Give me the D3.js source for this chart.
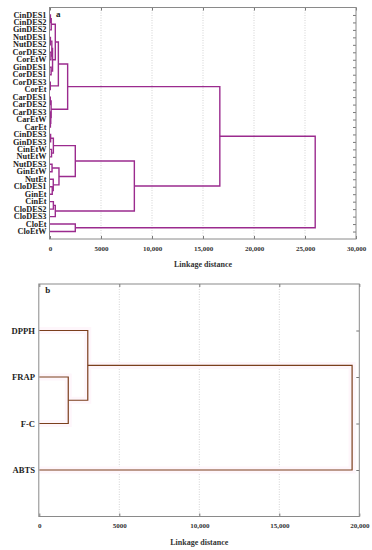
<!DOCTYPE html>
<html>
<head>
<meta charset="utf-8">
<script src="https://cdn.jsdelivr.net/npm/d3@7"></script>
<style>
  body { margin: 0; background: #fff; }
  svg text { font-family: "Liberation Serif", "DejaVu Serif", serif; font-weight: bold; fill: #222; }
</style>
</head>
<body>
<div id="chart"></div>
<script>
// panel a - leaves top to bottom
var leavesA = ["CinDES1", "CinDES2", "GinDES2", "NutDES1", "NutDES2", "CorDES2", "CorEtW",
    "GinDES1", "CorDES1", "CorDES3", "CorEt", "CarDES1", "CarDES2", "CarDES3", "CarEtW", "CarEt",
    "CinDES3", "GinDES3", "CinEtW", "NutEtW", "NutDES3", "GinEtW", "NutEt", "CloDES1", "GinEt",
    "CinEt", "CloDES2", "CloDES3", "CloEt", "CloEtW"];

// merges: [new cluster, left, right, linkage distance]
var mergesA = [
    ["c1", "CinDES1", "CinDES2", 40],
    ["c2", "c1", "GinDES2", 120],
    ["c3", "NutDES1", "NutDES2", 40],
    ["c4", "CorDES2", "CorEtW", 90],
    ["c5", "c3", "c4", 180],
    ["c6", "GinDES1", "CorDES1", 110],
    ["c7", "c5", "c6", 250],
    ["c8", "c2", "c7", 520],
    ["c9", "CorDES3", "CorEt", 30],
    ["c10", "c8", "c9", 820],
    ["c11", "CarDES1", "CarDES2", 30],
    ["c12", "CarEtW", "CarEt", 40],
    ["c13", "CarDES3", "c12", 70],
    ["c14", "c11", "c13", 110],
    ["c15", "c10", "c14", 1730],
    ["c16", "CinDES3", "GinDES3", 60],
    ["c17", "CinEtW", "NutEtW", 150],
    ["c18", "c16", "c17", 330],
    ["c19", "NutDES3", "GinEtW", 200],
    ["c20", "CloDES1", "GinEt", 220],
    ["c21", "NutEt", "c20", 320],
    ["c22", "c19", "c21", 880],
    ["c23", "c18", "c22", 2480],
    ["c24", "CinEt", "CloDES2", 330],
    ["c25", "c24", "CloDES3", 520],
    ["c26", "c23", "c25", 8270],
    ["c27", "c15", "c26", 16650],
    ["c28", "CloEt", "CloEtW", 2480],
    ["c29", "c27", "c28", 26000]
];
var ticksA = [0, 5000, 10000, 15000, 20000, 25000, 30000];

// panel b
var leavesB = ["DPPH", "FRAP", "F-C", "ABTS"];
var mergesB = [
    ["d1", "FRAP", "F-C", 1810],
    ["d2", "DPPH", "d1", 3030],
    ["d3", "d2", "ABTS", 19550]
];
var ticksB = [0, 5000, 10000, 15000, 20000];

var svg = d3.select("#chart").append("svg")
    .attr("width", 372)
    .attr("height", 550);

function fmt(d) {
    return d >= 10000 ? d3.format(",")(d) : String(d);
}

function drawPanel(p) {
    var x = d3.scaleLinear().domain(p.domain).range([p.left, p.right]);
    var y = d3.scalePoint().domain(p.leaves).range([p.top, p.bottom]).padding(p.pad);
    var g = svg.append("g");

    // grid
    g.selectAll(".grid").data(p.ticks.slice(1, -1)).enter().append("line")
        .attr("x1", d => x(d)).attr("x2", d => x(d))
        .attr("y1", p.top).attr("y2", p.bottom)
        .attr("stroke", "#c8c8c8")
        .attr("stroke-width", 0.8)
        .attr("stroke-dasharray", "1,1.5");

    // bottom axis labels
    var ax = g.append("g")
        .attr("transform", "translate(0," + p.bottom + ")")
        .call(d3.axisBottom(x).tickValues(p.ticks).tickFormat(fmt).tickSize(-3).tickPadding(p.tickPad));
    ax.select(".domain").remove();
    ax.selectAll(".tick line").attr("stroke", "#777");
    ax.selectAll("text").style("font-size", "7px").style("fill", "#333");

    // top ticks
    var tx = g.append("g")
        .attr("transform", "translate(0," + p.top + ")")
        .call(d3.axisTop(x).tickValues(p.ticks).tickFormat("").tickSize(-3));
    tx.select(".domain").remove();
    tx.selectAll(".tick line").attr("stroke", "#777");

    // right ticks at each leaf
    var ry = g.append("g")
        .attr("transform", "translate(" + p.right + ",0)")
        .call(d3.axisRight(y).tickFormat("").tickSize(-3));
    ry.select(".domain").remove();
    ry.selectAll(".tick line").attr("stroke", "#777");

    // leaf labels (slightly widened, font kept small so rows don't touch)
    g.selectAll(".leaf").data(p.leaves).enter().append("text")
        .attr("transform", d => "translate(" + p.labelX + "," + y(d) + ") scale(" + p.stretch + ",1)")
        .attr("dy", "0.35em")
        .attr("text-anchor", "end")
        .style("font-size", p.labelSize + "px")
        .text(d => d);

    // node positions
    var pos = {};
    p.leaves.forEach(function (l) { pos[l] = {x: 0, y: y(l)}; });
    var links = [];
    p.merges.forEach(function (m) {
        var a = pos[m[1]], b = pos[m[2]];
        pos[m[0]] = {x: m[3], y: (a.y + b.y) / 2};
        links.push({a: a, b: b, h: m[3]});
    });

    var path = function (d) {
        return "M" + x(d.a.x) + "," + d.a.y + "H" + x(d.h) + "V" + d.b.y + "H" + x(d.b.x);
    };

    if (p.halo) {
        g.selectAll(".halo").data(links).enter().append("path")
            .attr("d", path)
            .attr("fill", "none")
            .attr("stroke", p.halo)
            .attr("stroke-width", 7);
    }

    g.selectAll(".link").data(links).enter().append("path")
        .attr("d", path)
        .attr("fill", "none")
        .attr("stroke", p.color)
        .attr("stroke-width", p.lineW);

    // frame
    g.append("rect")
        .attr("x", p.left - 0.5).attr("y", p.top)
        .attr("width", p.right - p.left + 0.5).attr("height", p.bottom - p.top)
        .attr("fill", "none")
        .attr("stroke", "#8a8a8a")
        .attr("stroke-width", 1);

    g.append("text")
        .attr("x", p.left + 6).attr("y", p.top + 9)
        .style("font-size", "9px")
        .text(p.tag);

    g.append("text")
        .attr("x", (p.left + p.right) / 2).attr("y", p.titleY)
        .attr("text-anchor", "middle")
        .style("font-size", "8px")
        .style("fill", "#333")
        .text("Linkage distance");
}

drawPanel({
    leaves: leavesA, merges: mergesA, ticks: ticksA, domain: [0, 30000],
    left: 50, right: 356, top: 7.5, bottom: 239, pad: 1,
    labelX: 46.5, labelSize: 7.4, stretch: 1.12, tickPad: 7, titleY: 267,
    color: "#9b2b8e", lineW: 1.4, tag: "a"
});

drawPanel({
    leaves: leavesB, merges: mergesB, ticks: ticksB, domain: [0, 20000],
    left: 39.3, right: 359.3, top: 284, bottom: 516.5, pad: 1,
    labelX: 35, labelSize: 8.6, stretch: 1, tickPad: 7, titleY: 545,
    color: "#7b3f1c", lineW: 1.2, tag: "b", halo: "#fef6fb"
});
</script>
</body>
</html>
